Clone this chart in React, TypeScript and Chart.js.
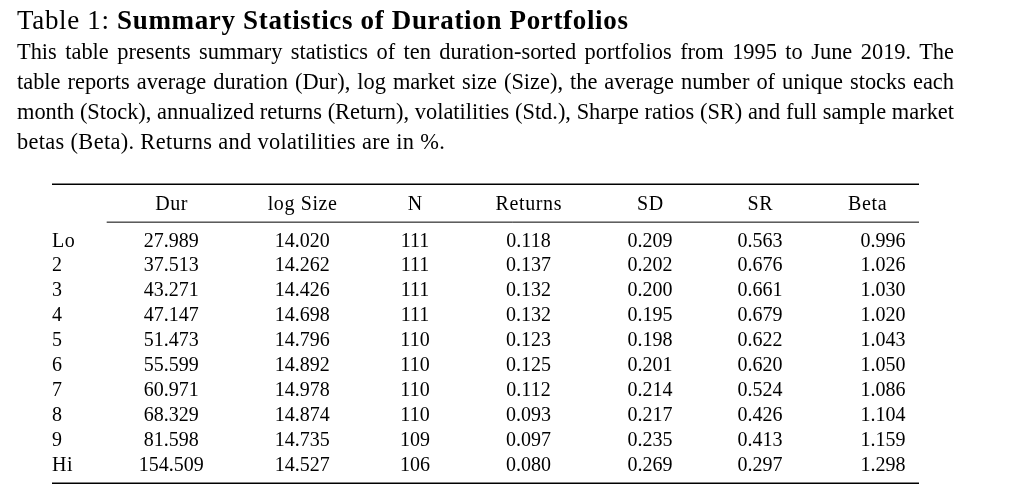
import React, { useEffect, useRef } from 'react';
import { Chart, registerables } from 'chart.js';

Chart.register(...registerables);

// ---------- data ----------
const TITLE_PREFIX = 'Table 1: ';
const TITLE_BOLD = 'Summary Statistics of Duration Portfolios';
const CAPTION_LINES = [
  'This table presents summary statistics of ten duration-sorted portfolios from 1995 to June 2019. The',
  'table reports average duration (Dur), log market size (Size), the average number of unique stocks each',
  'month (Stock), annualized returns (Return), volatilities (Std.), Sharpe ratios (SR) and full sample market',
  'betas (Beta). Returns and volatilities are in %.',
];
const ROW_LABELS = ['Lo', '2', '3', '4', '5', '6', '7', '8', '9', 'Hi'];
const HEADERS = ['Dur', 'log Size', 'N', 'Returns', 'SD', 'SR', 'Beta'];
const DUR = [27.989, 37.513, 43.271, 47.147, 51.473, 55.599, 60.971, 68.329, 81.598, 154.509];
const LOG_SIZE = [14.02, 14.262, 14.426, 14.698, 14.796, 14.892, 14.978, 14.874, 14.735, 14.527];
const N_STOCKS = [111, 111, 111, 111, 110, 110, 110, 110, 109, 106];
const RETURNS = [0.118, 0.137, 0.132, 0.132, 0.123, 0.125, 0.112, 0.093, 0.097, 0.08];
const SD = [0.209, 0.202, 0.2, 0.195, 0.198, 0.201, 0.214, 0.217, 0.235, 0.269];
const SR = [0.563, 0.676, 0.661, 0.679, 0.622, 0.62, 0.524, 0.426, 0.413, 0.297];
const BETA = [0.996, 1.026, 1.03, 1.02, 1.043, 1.05, 1.086, 1.104, 1.159, 1.298];
const DECIMALS = [3, 3, 0, 3, 3, 3, 3];

// ---------- layout (table units, not data) ----------
const TABLE_WIDTH = 867; // x-scale range across the rules
const COL_X = [119.3, 250.3, 363, 476.5, 598, 708, 831]; // column centres for values
const HEADER_X = [119.3, 250.3, 363, 476.5, 598, 708, 815.3]; // header centres
const HEADER_ROW = -1.47;
const TOP_RULE = -2.5;
const MID_RULE = -0.98;
const BOTTOM_RULE = 9.51;
const MID_RULE_START = 54.7;
const FONT = '20px "Liberation Serif", "Times New Roman", serif';

const COLUMNS = [DUR, LOG_SIZE, N_STOCKS, RETURNS, SD, SR, BETA];

const tablePlugin = {
  id: 'tableText',
  afterDraw(chart: any) {
    const ctx = chart.ctx as any;
    const xs = chart.scales.x;
    const ys = chart.scales.y;
    ctx.save();
    ctx.fillStyle = '#000';
    ctx.strokeStyle = '#000';
    // rules
    const rule = (y: number, x0: number, w: number) => {
      ctx.beginPath();
      ctx.lineWidth = w;
      ctx.moveTo(xs.getPixelForValue(x0), ys.getPixelForValue(y));
      ctx.lineTo(xs.getPixelForValue(TABLE_WIDTH), ys.getPixelForValue(y));
      ctx.stroke();
    };
    rule(TOP_RULE, 0, 1.6);
    rule(MID_RULE, MID_RULE_START, 1);
    rule(BOTTOM_RULE, 0, 1.6);

    ctx.font = FONT;
    ctx.textBaseline = 'alphabetic';
    // headers
    ctx.textAlign = 'center';
    ctx.letterSpacing = '0.6px';
    HEADERS.forEach((h, c) => {
      ctx.fillText(h, xs.getPixelForValue(HEADER_X[c]) + 0.3, ys.getPixelForValue(HEADER_ROW));
    });
    // row labels
    ctx.textAlign = 'left';
    ROW_LABELS.forEach((r, i) => {
      ctx.fillText(r, xs.getPixelForValue(0), ys.getPixelForValue(i));
    });
    ctx.letterSpacing = '0px';
    // cells via dataset elements
    ctx.textAlign = 'center';
    chart.data.datasets.forEach((ds: any, c: number) => {
      const meta = chart.getDatasetMeta(c);
      meta.data.forEach((el: any, i: number) => {
        const v = COLUMNS[c][i];
        ctx.fillText(v.toFixed(DECIMALS[c]), el.x, el.y);
      });
    });
    ctx.restore();
  },
};

export default function App() {
  const ref = useRef<HTMLCanvasElement | null>(null);
  useEffect(() => {
    if (!ref.current) return;
    const chart = new Chart(ref.current, {
      type: 'scatter',
      data: {
        datasets: COLUMNS.map((col, c) => ({
          label: HEADERS[c],
          data: col.map((_, i) => ({ x: COL_X[c], y: i })),
          pointRadius: 0,
          pointHoverRadius: 0,
          showLine: false,
        })),
      },
      options: {
        responsive: false,
        animation: false,
        events: [],
        layout: { padding: { left: 52, right: 98, top: 184.3, bottom: 12.7 } },
        plugins: { legend: { display: false }, tooltip: { enabled: false }, title: { display: false } },
        scales: {
          x: { type: 'linear', min: 0, max: TABLE_WIDTH, display: false },
          y: { type: 'linear', min: TOP_RULE, max: BOTTOM_RULE, reverse: true, display: false },
        },
      },
      plugins: [tablePlugin],
    });
    return () => chart.destroy();
  }, []);

  const serif = '"Liberation Serif", "Times New Roman", serif';
  return (
    <div style={{ position: 'fixed', left: 0, top: 0, width: 1017, height: 496, background: '#fff', overflow: 'hidden' }}>
      <canvas ref={ref} width={1017} height={496} style={{ position: 'absolute', left: 0, top: 0, width: 1017, height: 496, display: 'block' }} />
      <div style={{ position: 'absolute', left: 17, top: 5.2, fontFamily: serif, fontSize: 27, lineHeight: '30px', letterSpacing: '0.66px', color: '#000', whiteSpace: 'nowrap' }}>
        {TITLE_PREFIX}<b>{TITLE_BOLD}</b>
      </div>
      {CAPTION_LINES.map((line, i) => {
        const last = i === CAPTION_LINES.length - 1;
        return (
          <div
            key={i}
            style={{
              position: 'absolute',
              left: 17,
              top: 37 + i * 30,
              width: 937,
              fontFamily: serif,
              fontSize: 22.4,
              lineHeight: '30px',
              letterSpacing: last ? '0.33px' : '0px',
              color: '#000',
              whiteSpace: 'normal',
              textAlign: last ? 'left' : 'justify',
              textAlignLast: last ? 'left' : 'justify',
            } as any}
          >
            {line}
          </div>
        );
      })}
    </div>
  );
}
